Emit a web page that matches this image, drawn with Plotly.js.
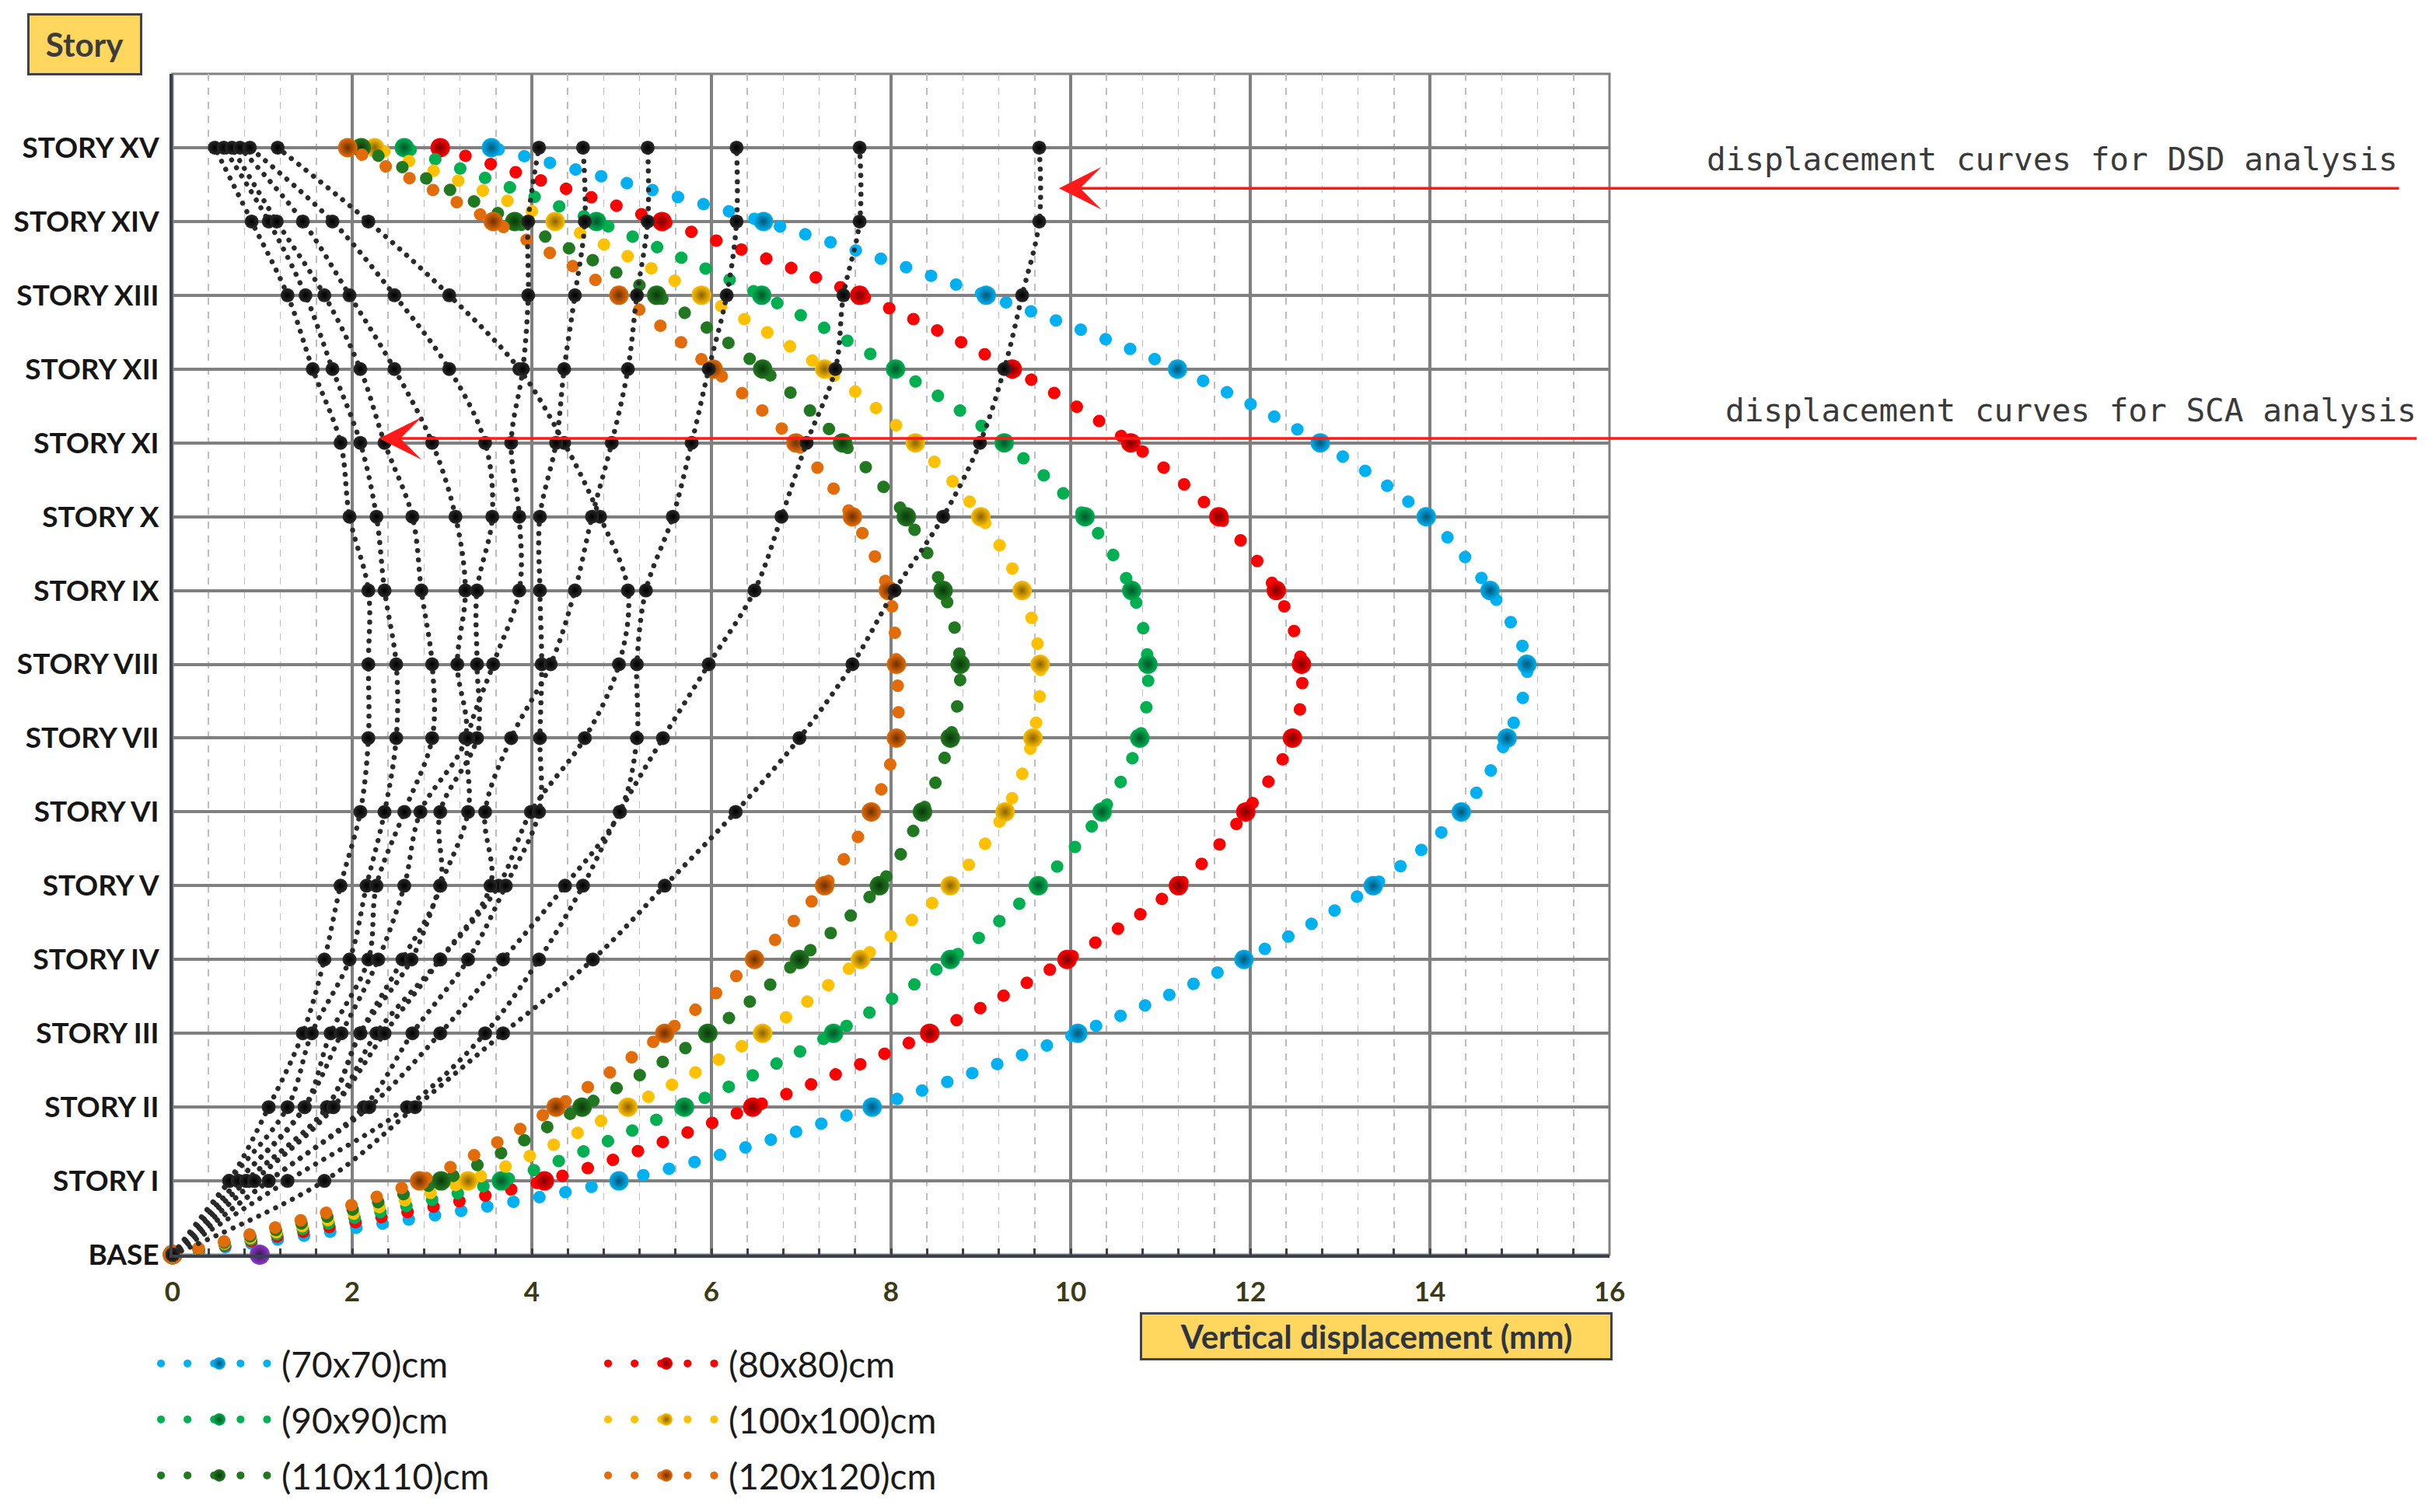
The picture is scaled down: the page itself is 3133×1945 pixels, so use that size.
<!DOCTYPE html>
<html>
<head>
<meta charset="utf-8">
<script src="https://cdn.plot.ly/plotly-3.0.1.min.js"></script>
<style>
  html, body { margin: 0; padding: 0; background: #fff; }
  #chart { width: 3133px; height: 1945px; }
  /* round caps turn the tiny dashes into round dots */
  .js-line { stroke-linecap: round; }
</style>
</head>
<body>
<div id="chart"></div>
<script>
// Story levels, bottom to top
const storyLabels = ["BASE", "STORY I", "STORY II", "STORY III", "STORY IV", "STORY V", "STORY VI",
  "STORY VII", "STORY VIII", "STORY IX", "STORY X", "STORY XI", "STORY XII", "STORY XIII",
  "STORY XIV", "STORY XV"];
const storyIdx = storyLabels.map((_, i) => i);
const xTicks = [0, 2, 4, 6, 8, 10, 12, 14, 16];

// Coloured curves, vertical displacement (mm) at BASE..XV, one per column size
const sizeNames = ["(70x70)cm", "(80x80)cm", "(90x90)cm", "(100x100)cm", "(110x110)cm", "(120x120)cm"];
const d70  = [0, 4.97, 7.79, 10.08, 11.93, 13.37, 14.35, 14.86, 15.08, 14.67, 13.96, 12.78, 11.19, 9.06, 6.58, 3.55];
const d80  = [0, 4.14, 6.46, 8.43, 9.96, 11.20, 11.95, 12.47, 12.57, 12.29, 11.65, 10.67, 9.35, 7.65, 5.45, 2.98];
const d90  = [0, 3.66, 5.70, 7.36, 8.66, 9.64, 10.35, 10.77, 10.86, 10.68, 10.16, 9.26, 8.05, 6.56, 4.72, 2.58];
const d100 = [0, 3.29, 5.07, 6.57, 7.66, 8.66, 9.27, 9.58, 9.66, 9.46, 9.00, 8.27, 7.26, 5.89, 4.26, 2.25];
const d110 = [0, 2.99, 4.56, 5.96, 6.98, 7.87, 8.35, 8.66, 8.77, 8.58, 8.17, 7.46, 6.57, 5.39, 3.81, 2.10];
const d120 = [0, 2.75, 4.27, 5.48, 6.48, 7.26, 7.78, 8.06, 8.06, 7.97, 7.57, 6.94, 6.02, 4.97, 3.57, 1.95];

// Black (dotted) curves, BASE..XV
const blk1  = [0, 0.63, 1.07, 1.45, 1.69, 1.87, 2.09, 2.18, 2.18, 2.18, 1.97, 1.87, 1.56, 1.28, 0.88, 0.47];
const blk2  = [0, 0.63, 1.28, 1.55, 1.97, 2.16, 2.36, 2.49, 2.49, 2.36, 2.27, 2.09, 1.78, 1.48, 1.07, 0.57];
const blk3  = [0, 0.73, 1.47, 1.76, 2.18, 2.27, 2.58, 2.89, 2.89, 2.77, 2.67, 2.36, 2.09, 1.69, 1.16, 0.66];
const blk4  = [0, 0.73, 1.47, 1.88, 2.29, 2.58, 2.76, 3.26, 3.17, 3.26, 3.15, 2.89, 2.47, 1.97, 1.45, 0.75];
const blk5  = [0, 0.82, 1.72, 2.09, 2.56, 2.98, 2.98, 3.39, 3.39, 3.39, 3.56, 3.48, 3.08, 2.47, 1.78, 0.86];
const blk6  = [0, 0.91, 1.79, 2.27, 2.98, 3.63, 3.99, 4.59, 4.97, 5.07, 4.76, 4.36, 3.86, 3.08, 2.18, 1.17];
const blk7  = [0, 0.82, 1.72, 2.09, 2.66, 2.98, 3.29, 3.29, 3.57, 3.86, 3.86, 3.77, 3.90, 3.96, 3.96, 4.08];
const blk8  = [0, 1.07, 2.13, 2.67, 3.29, 3.71, 4.08, 4.09, 4.11, 4.09, 4.09, 4.27, 4.36, 4.48, 4.59, 4.57];
const blk9  = [0, 0.91, 1.79, 2.36, 2.98, 3.54, 3.48, 3.77, 4.21, 4.48, 4.67, 4.89, 5.07, 5.17, 5.29, 5.29];
const blk10 = [0, 1.07, 2.19, 2.98, 3.68, 4.37, 4.98, 5.17, 5.17, 5.27, 5.57, 5.78, 5.97, 6.17, 6.28, 6.28];
const blk11 = [0, 1.28, 2.61, 3.48, 4.08, 4.57, 4.98, 5.46, 5.97, 6.48, 6.78, 7.06, 7.38, 7.47, 7.65, 7.65];
const blk12 = [0, 1.69, 2.70, 3.68, 4.68, 5.48, 6.27, 6.98, 7.57, 8.04, 8.58, 8.99, 9.26, 9.46, 9.65, 9.65];

// lone purple point on the base line
const purpleX = [0.97];
const purpleY = [0];

const W = 3133, H = 1945;
const M = { l: 222, r: 1063, t: 95, b: 331 };
const PW = W - M.l - M.r, PH = H - M.t - M.b;
const px = v => (v - M.l) / PW;          // page px -> paper x
const py = v => (H - M.b - v) / PH;      // page px -> paper y

const colSeries = [d70, d80, d90, d100, d110, d120];
const colColors = ["#00B0F0", "#FF0000", "#00B050", "#FFC000", "#217821", "#E36C0A"];
const colShade  = ["#00577a", "#7a0000", "#00552a", "#8a6200", "#0a380a", "#6e3000"];
const colLegend = ["legend", "legend", "legend2", "legend2", "legend3", "legend3"];
const blkSeries = [blk1, blk2, blk3, blk4, blk5, blk6, blk7, blk8, blk9, blk10, blk11, blk12];

const traces = [];
colSeries.forEach((xs, i) => traces.push({
  type: "scatter", mode: "lines+markers", name: sizeNames[i],
  x: xs, y: storyIdx, legend: colLegend[i], cliponaxis: false, hoverinfo: "skip",
  line: { color: colColors[i], width: 16, dash: "0.1px,34px", shape: "spline", smoothing: 1 },
  marker: { size: 25, color: colColors[i], gradient: { type: "radial", color: colShade[i] } },
}));
blkSeries.forEach(xs => traces.push({
  type: "scatter", mode: "lines+markers", showlegend: false,
  x: xs, y: storyIdx, cliponaxis: false, hoverinfo: "skip",
  line: { color: "#2a2a2a", width: 6.5, dash: "0.1px,12px", shape: "spline", smoothing: 1 },
  marker: { size: 18, color: "#2a2a2a", gradient: { type: "radial", color: "#000000" } },
}));
traces.push({
  type: "scatter", mode: "markers", showlegend: false, x: purpleX, y: purpleY,
  cliponaxis: false, hoverinfo: "skip",
  marker: { size: 26, color: "#8a3cc0", gradient: { type: "radial", color: "#3d0f5e" } },
});

const legendBase = {
  orientation: "h", xanchor: "left", yanchor: "middle",
  font: { family: "Lato, sans-serif", size: 46, color: "#1a1a1a" },
  itemwidth: 150, entrywidth: 410, entrywidthmode: "pixels",
  bgcolor: "rgba(0,0,0,0)", borderwidth: 0,
};

const labelFont = { family: "DejaVu Sans Mono, monospace", size: 41, color: "#3a3a3a" };

const layout = {
  width: W, height: H,
  margin: { l: M.l, r: M.r, t: M.t, b: M.b, autoexpand: false },
  paper_bgcolor: "#ffffff", plot_bgcolor: "#ffffff",
  font: { family: "Lato, sans-serif" },
  hovermode: false,
  xaxis: {
    range: [0, 16], tickvals: xTicks, zeroline: false,
    showgrid: true, gridcolor: "#808080", gridwidth: 3.5,
    showline: true, linecolor: "#3a404c", linewidth: 4,
    ticks: "inside", ticklen: 8, tickwidth: 3, tickcolor: "#3a404c",
    ticklabelstandoff: 14,
    tickfont: { family: "Lato, sans-serif", size: 35, weight: 700, color: "#3b3a16" },
    minor: { dtick: 0.4, showgrid: true, griddash: "dash", gridcolor: "#bdbdbd", gridwidth: 1.5,
             ticks: "inside", ticklen: 8, tickwidth: 3, tickcolor: "#3a404c" },
  },
  yaxis: {
    range: [0, 16], tickvals: storyIdx, ticktext: storyLabels, zeroline: false,
    showgrid: true, gridcolor: "#808080", gridwidth: 4,
    showline: true, linecolor: "#3a404c", linewidth: 4,
    ticks: "", ticklabelstandoff: 6,
    tickfont: { family: "Lato, sans-serif", size: 37, weight: 700, color: "#161616" },
  },
  legend:  { ...legendBase, x: px(202), y: py(1754) },
  legend2: { ...legendBase, x: px(202), y: py(1826) },
  legend3: { ...legendBase, x: px(202), y: py(1898) },
  shapes: [
    { type: "rect", xref: "paper", yref: "paper", x0: 0, x1: 1, y0: 0, y1: 1,
      line: { color: "#808080", width: 3 }, layer: "below" },
  ],
  annotations: [
    { xref: "paper", yref: "paper", x: px(109), y: py(57), xanchor: "center", yanchor: "middle",
      text: "Story", showarrow: false,
      font: { family: "Lato, sans-serif", size: 42, weight: 700, color: "#3c3c3c" },
      bgcolor: "#FFD75F", bordercolor: "#3d4250", borderwidth: 3, borderpad: 4, width: 134, height: 66 },
    { xref: "paper", yref: "paper", x: px(1770), y: py(1719), xanchor: "center", yanchor: "middle",
      text: "Vertical displacement (mm)", showarrow: false,
      font: { family: "Lato, sans-serif", size: 42, weight: 700, color: "#2e3440" },
      bgcolor: "#FFD75F", bordercolor: "#3d4250", borderwidth: 3, borderpad: 3, width: 596, height: 50 },
    { xref: "paper", yref: "paper", x: px(3086), y: py(205), xanchor: "right", yanchor: "middle",
      text: "displacement curves for DSD analysis", showarrow: false, font: labelFont },
    { xref: "paper", yref: "paper", x: px(3110), y: py(528), xanchor: "right", yanchor: "middle",
      text: "displacement curves for SCA analysis", showarrow: false, font: labelFont },
    // red pointers
    { xref: "x", yref: "y", x: 9.87, y: 14.45, ax: 1725, ay: 0, text: "", showarrow: true,
      arrowhead: 3, arrowsize: 2.6, arrowwidth: 3.5, arrowcolor: "#FF1A1A" },
    { xref: "x", yref: "y", x: 2.30, y: 11.06, ax: 2622, ay: 0, text: "", showarrow: true,
      arrowhead: 3, arrowsize: 2.6, arrowwidth: 3.5, arrowcolor: "#FF1A1A" },
  ],
};

Plotly.newPlot("chart", traces, layout, { staticPlot: true, displayModeBar: false });
</script>
</body>
</html>
